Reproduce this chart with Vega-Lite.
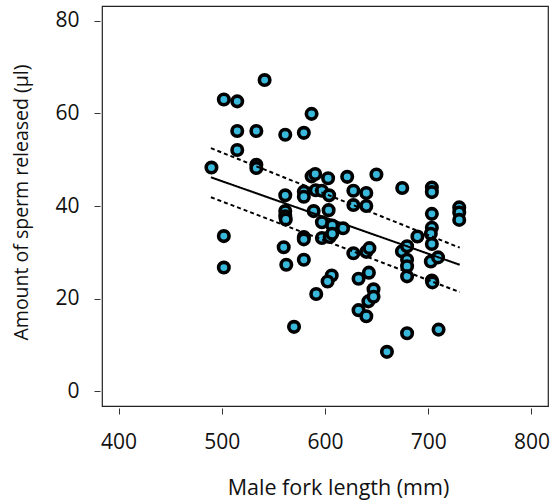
{
  "$schema": "https://vega.github.io/schema/vega-lite/v6.json",
  "autosize": {"type": "none"},
  "width": 446,
  "height": 400,
  "padding": {"left": 102, "top": 6, "right": 10, "bottom": 94},
  "background": "white",
  "config": {
    "view": {"stroke": "#222222", "strokeWidth": 1.2},
    "font": "Open Sans",
    "axis": {
      "domain": false,
      "grid": false,
      "ticks": true,
      "tickColor": "#333333",
      "tickWidth": 1,
      "tickSize": 6,
      "labelFont": "Open Sans",
      "labelFontSize": 21,
      "labelColor": "#111111",
      "titleFont": "Open Sans",
      "titleFontWeight": "normal",
      "titleColor": "#111111"
    }
  },
  "datasets": {
    "pts": [
      {"length": 490, "sperm": 48.3}, {"length": 502, "sperm": 63.0}, {"length": 502, "sperm": 33.5}, {"length": 502, "sperm": 26.7},
      {"length": 515, "sperm": 62.6}, {"length": 515, "sperm": 56.2}, {"length": 515, "sperm": 52.1}, {"length": 533.5, "sperm": 56.2},
      {"length": 533.5, "sperm": 48.9}, {"length": 533.5, "sperm": 48.2}, {"length": 541.5, "sperm": 67.2}, {"length": 561.5, "sperm": 55.4},
      {"length": 561.5, "sperm": 42.3}, {"length": 561.5, "sperm": 38.9}, {"length": 561.5, "sperm": 37.8}, {"length": 562, "sperm": 37.1},
      {"length": 560, "sperm": 31.1}, {"length": 562.5, "sperm": 27.3}, {"length": 570, "sperm": 13.9}, {"length": 579.5, "sperm": 55.8},
      {"length": 579.5, "sperm": 43.1}, {"length": 579.5, "sperm": 42.0}, {"length": 579.5, "sperm": 33.3}, {"length": 579.5, "sperm": 32.8},
      {"length": 579.5, "sperm": 28.4}, {"length": 587, "sperm": 59.9}, {"length": 587, "sperm": 46.4}, {"length": 590.5, "sperm": 46.9},
      {"length": 589, "sperm": 38.9}, {"length": 591.5, "sperm": 21.0}, {"length": 591, "sperm": 43.4}, {"length": 597, "sperm": 43.3},
      {"length": 597, "sperm": 36.5}, {"length": 597, "sperm": 33.1}, {"length": 603, "sperm": 46.0}, {"length": 604, "sperm": 42.3},
      {"length": 603.5, "sperm": 39.1}, {"length": 604.5, "sperm": 33.3}, {"length": 607, "sperm": 35.8}, {"length": 607, "sperm": 34.0},
      {"length": 606.5, "sperm": 25.0}, {"length": 602.5, "sperm": 23.7}, {"length": 617.5, "sperm": 35.2}, {"length": 621.5, "sperm": 46.3},
      {"length": 627.5, "sperm": 43.3}, {"length": 627.5, "sperm": 40.2}, {"length": 627.5, "sperm": 29.8}, {"length": 632.5, "sperm": 24.3},
      {"length": 632.5, "sperm": 17.5}, {"length": 640, "sperm": 42.8}, {"length": 640, "sperm": 40.0}, {"length": 640, "sperm": 30.1},
      {"length": 643, "sperm": 30.9}, {"length": 642.5, "sperm": 25.6}, {"length": 640, "sperm": 16.2}, {"length": 642, "sperm": 19.4},
      {"length": 647, "sperm": 22.0}, {"length": 647, "sperm": 20.4}, {"length": 649.8, "sperm": 46.8}, {"length": 660, "sperm": 8.5},
      {"length": 674.8, "sperm": 43.9}, {"length": 674.5, "sperm": 30.2}, {"length": 679.5, "sperm": 31.3}, {"length": 679.5, "sperm": 28.4},
      {"length": 679.5, "sperm": 27.0}, {"length": 679.5, "sperm": 24.8}, {"length": 679.5, "sperm": 12.5}, {"length": 689.5, "sperm": 33.4},
      {"length": 703.5, "sperm": 44.0}, {"length": 703.5, "sperm": 43.0}, {"length": 703.5, "sperm": 38.3}, {"length": 703.5, "sperm": 35.3},
      {"length": 702.5, "sperm": 34.0}, {"length": 703.5, "sperm": 31.8}, {"length": 702.5, "sperm": 28.0}, {"length": 709.5, "sperm": 28.9},
      {"length": 703.5, "sperm": 23.9}, {"length": 704, "sperm": 23.5}, {"length": 710, "sperm": 13.3}, {"length": 730, "sperm": 39.7},
      {"length": 730, "sperm": 38.6}, {"length": 730, "sperm": 37.0}
    ],
    "lines": [
      {"band": "fit", "length": 489.5, "sperm": 46.2}, {"band": "fit", "length": 730.5, "sperm": 27.3},
      {"band": "upper", "length": 489.5, "sperm": 52.5}, {"band": "upper", "length": 730.5, "sperm": 31.0},
      {"band": "lower", "length": 489.5, "sperm": 41.9}, {"band": "lower", "length": 730.5, "sperm": 21.4}
    ]
  },
  "encoding": {
    "x": {
      "field": "length", "type": "quantitative",
      "scale": {"domain": [384, 816], "nice": false, "zero": false},
      "axis": {"values": [400, 500, 600, 700, 800], "title": "Male fork length (mm)", "offset": 2, "labelPadding": 17, "titlePadding": 25, "titleFontSize": 21.5, "titleX": 236, "titleAlign": "center"}
    },
    "y": {
      "field": "sperm", "type": "quantitative",
      "scale": {"domain": [-3.2, 83.2], "nice": false, "zero": false},
      "axis": {"values": [0, 20, 40, 60, 80], "title": "Amount of sperm released (µl)", "offset": 2, "labelPadding": 15, "titlePadding": 23, "titleFontSize": 19.5, "titleY": 196, "titleAlign": "center"}
    }
  },
  "layer": [
    {
      "data": {"name": "pts"},
      "mark": {"type": "point", "shape": "circle", "filled": true, "fill": "#38b9dc", "stroke": "#000000", "strokeWidth": 3.6, "size": 110, "opacity": 1}
    },
    {
      "data": {"name": "lines"},
      "mark": {"type": "line", "color": "#000000", "strokeWidth": 2},
      "encoding": {
        "detail": {"field": "band"},
        "strokeDash": {"field": "band", "type": "nominal", "scale": {"domain": ["fit", "upper", "lower"], "range": [[1, 0], [4, 3], [4, 3]]}, "legend": null}
      }
    }
  ]
}
